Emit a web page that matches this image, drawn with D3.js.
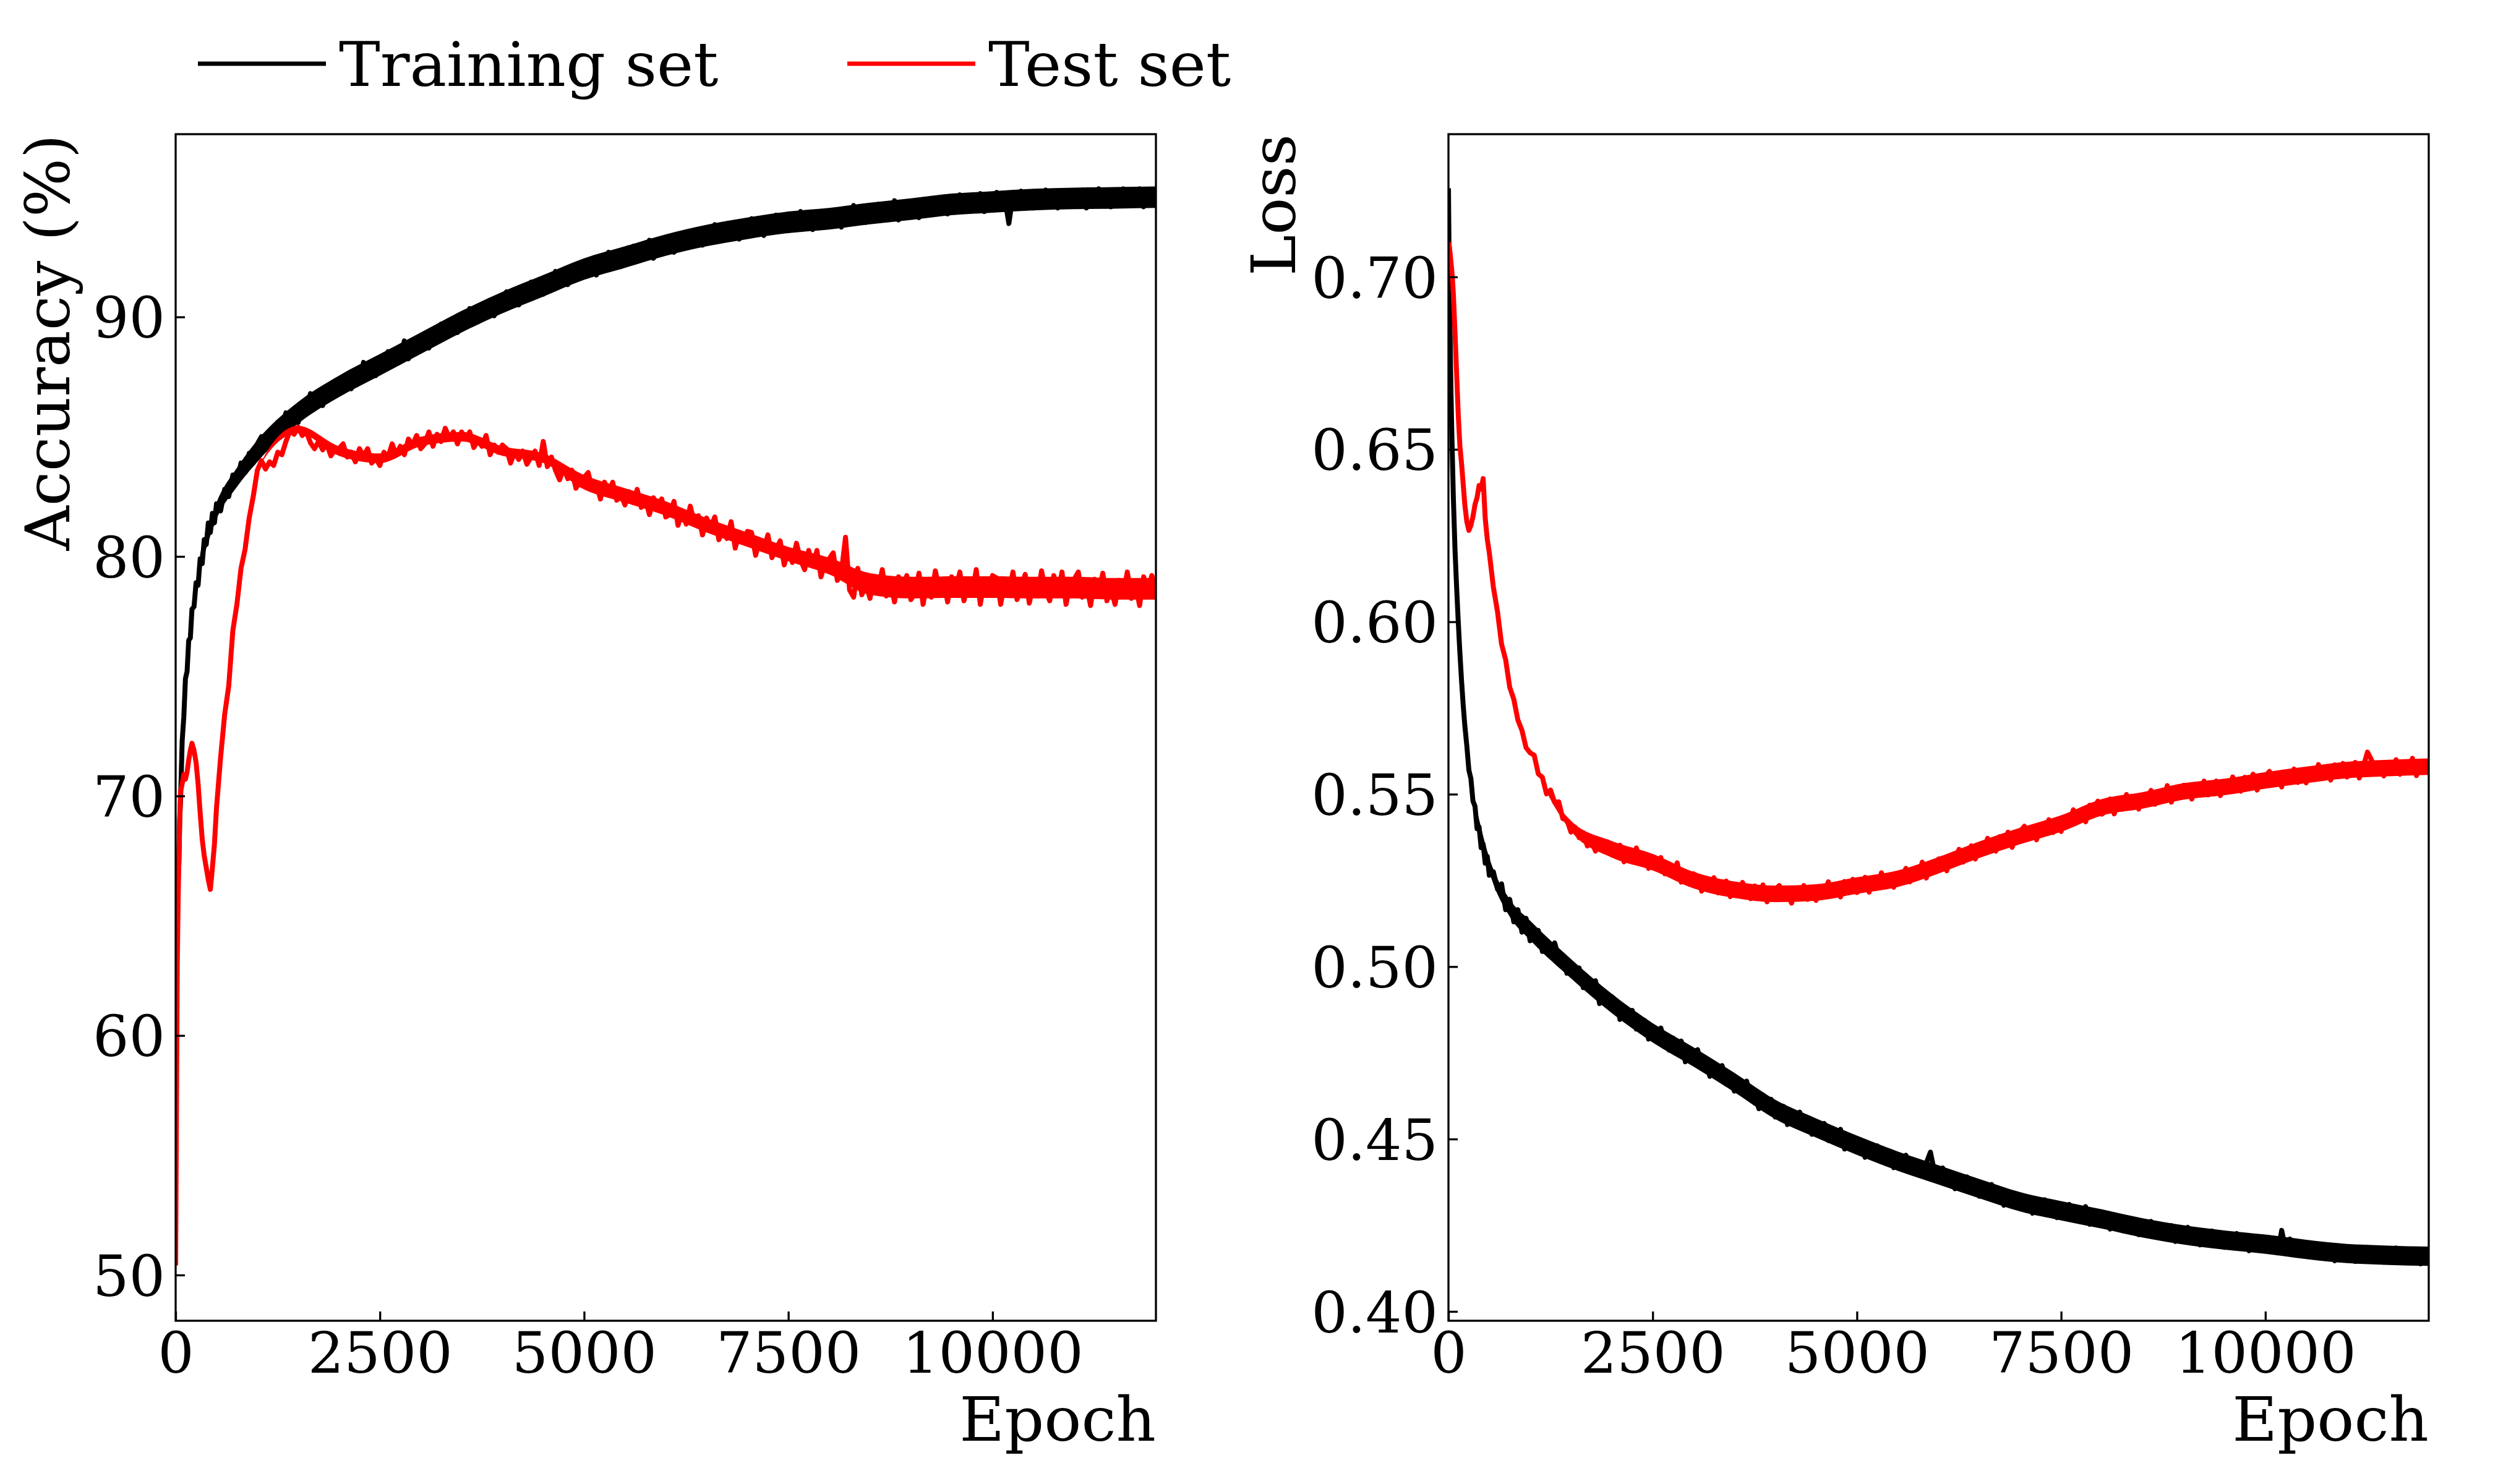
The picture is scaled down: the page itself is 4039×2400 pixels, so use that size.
<!DOCTYPE html>
<html>
<head>
<meta charset="utf-8">
<title>Accuracy and loss per epoch</title>
<script src="https://d3js.org/d3.v7.min.js"></script>
<style>
  body { margin: 0; background: #fff; }
  text { font-family: "DejaVu Serif", serif; fill: #000; }
</style>
</head>
<body>
<div id="chart"></div>
<script>
// epochs, denser at the start where curves move fast
var epochs = [0, 10, 20, 30, 40, 50, 60, 80, 100, 120,
  140, 160, 180, 200, 225, 250, 275, 300, 325, 350,
  375, 400, 425, 450, 475, 500, 550, 600, 650, 700,
  750, 800, 850, 900, 950, 1000,
  1050, 1100, 1150, 1200, 1250, 1300, 1350, 1400, 1450, 1500, 1550, 1600, 1650, 1700, 1750, 1800, 1850, 1900, 1950, 2000,
  2050, 2100, 2150, 2200, 2250, 2300, 2350, 2400, 2450, 2500, 2550, 2600, 2650, 2700, 2750, 2800, 2850, 2900, 2950, 3000,
  3050, 3100, 3150, 3200, 3250, 3300, 3350, 3400, 3450, 3500, 3550, 3600, 3650, 3700, 3750, 3800, 3850, 3900, 3950, 4000,
  4050, 4100, 4150, 4200, 4250, 4300, 4350, 4400, 4450, 4500, 4550, 4600, 4650, 4700, 4750, 4800, 4850, 4900, 4950, 5000,
  5050, 5100, 5150, 5200, 5250, 5300, 5350, 5400, 5450, 5500, 5550, 5600, 5650, 5700, 5750, 5800, 5850, 5900, 5950, 6000,
  6050, 6100, 6150, 6200, 6250, 6300, 6350, 6400, 6450, 6500, 6550, 6600, 6650, 6700, 6750, 6800, 6850, 6900, 6950, 7000,
  7050, 7100, 7150, 7200, 7250, 7300, 7350, 7400, 7450, 7500, 7550, 7600, 7650, 7700, 7750, 7800, 7850, 7900, 7950, 8000,
  8050, 8100, 8150, 8200, 8250, 8300, 8350, 8400, 8450, 8500, 8550, 8600, 8650, 8700, 8750, 8800, 8850, 8900, 8950, 9000,
  9050, 9100, 9150, 9200, 9250, 9300, 9350, 9400, 9450, 9500, 9550, 9600, 9650, 9700, 9750, 9800, 9850, 9900, 9950, 10000,
  10050, 10100, 10150, 10200, 10250, 10300, 10350, 10400, 10450, 10500, 10550, 10600, 10650, 10700, 10750, 10800, 10850, 10900, 10950, 11000,
  11050, 11100, 11150, 11200, 11250, 11300, 11350, 11400, 11450, 11500, 11550, 11600, 11650, 11700, 11750, 11800, 11850, 11900, 11950, 12000];

var trainAcc = [62.5, 64.6, 65.3, 66.6, 67.2, 69.0, 69.8, 72.3, 73.3, 74.9,
  75.2, 76.5, 76.6, 77.8, 77.9, 78.9, 78.8, 79.9, 79.7, 80.7,
  80.5, 81.4, 81.0, 81.8, 81.4, 82.2, 81.9, 82.8, 82.5, 83.4,
  83.1, 83.9, 83.5, 84.3, 83.9, 84.7,
  85.0, 84.6, 85.1, 84.8, 85.6, 85.4, 86.0, 85.5, 85.9, 85.6, 86.35, 86.2, 86.8, 86.25, 86.7, 86.3, 87.1, 86.85, 87.3, 86.8,
  87.05, 87.6, 87.0, 87.6, 87.35, 88.1, 87.65, 88.05, 87.55, 88.25, 88.05, 88.55, 88.0, 88.5, 88.3, 89.0, 88.25, 88.9, 88.7, 89.2,
  89.25, 88.7, 89.3, 89.15, 89.7, 89.15, 89.55, 89.9, 89.35, 89.9, 89.7, 90.35, 89.95, 89.8, 90.5, 90.15, 90.7, 90.05, 90.6, 90.8,
  91.05, 90.55, 90.9, 90.5, 91.2, 90.9, 91.45, 90.85, 91.25, 90.95, 91.6, 91.35, 91.9, 91.35, 91.75, 91.35, 92.1, 91.85, 92.25, 91.7,
  91.9, 92.4, 91.75, 92.3, 92.0, 92.7, 92.25, 92.6, 92.1, 92.75, 92.5, 92.95, 92.35, 92.8, 92.55, 93.2, 92.45, 93.05, 92.85, 93.3,
  93.3, 92.7, 93.25, 93.05, 93.55, 92.95, 93.35, 93.6, 93.0, 93.5, 93.25, 93.85, 93.4, 93.25, 93.85, 93.45, 93.95, 93.25, 93.8, 93.9,
  94.1, 93.55, 93.85, 93.4, 94.05, 93.75, 94.25, 93.6, 93.9, 93.6, 94.15, 93.9, 94.4, 93.8, 94.15, 93.65, 94.35, 94.05, 94.4, 93.8,
  93.95, 94.45, 93.75, 94.3, 94.0, 94.65, 94.2, 94.5, 93.95, 94.55, 94.3, 94.7, 94.05, 94.5, 94.2, 94.85, 94.05, 94.65, 94.4, 94.8,
  94.75, 94.15, 94.75, 94.5, 94.95, 94.35, 94.7, 94.95, 94.3, 94.8, 94.5, 95.1, 94.65, 94.45, 95.05, 94.6, 95.15, 94.4, 94.9, 95.0,
  95.2, 94.65, 94.95, 93.9, 95.1, 94.8, 95.25, 94.6, 94.9, 94.55, 95.1, 94.8, 95.3, 94.7, 95.05, 94.55, 95.2, 94.9, 95.25, 94.65,
  94.8, 95.3, 94.55, 95.1, 94.7, 95.35, 94.9, 95.2, 94.6, 95.2, 94.95, 95.35, 94.65, 95.05, 94.8, 95.35, 94.6, 95.15, 94.9, 95.1];

var testAcc = [50.4, 57.0, 63.0, 65.5, 67.5, 69.0, 70.2, 70.5, 70.9, 70.7,
  71.0, 71.5, 71.9, 72.2, 71.9, 71.4, 70.5, 69.3, 68.2, 67.5,
  67.0, 66.5, 66.1, 67.0, 68.0, 69.5, 71.6, 73.4, 74.6, 76.9,
  78.0, 79.5, 80.3, 81.6, 82.5, 83.6,
  84.0, 83.65, 83.95, 83.8, 84.35, 84.25, 84.8, 85.25, 85.1, 85.4, 85.05, 85.2, 84.75, 84.5, 84.8, 84.45, 84.7, 84.2, 84.45, 84.5,
  84.7, 84.15, 84.35, 83.95, 84.5, 84.2, 84.5, 83.9, 84.1, 83.8, 84.35, 84.15, 84.7, 84.25, 84.6, 84.25, 84.9, 84.65, 85.05, 84.5,
  84.7, 85.2, 84.6, 85.1, 84.8, 85.35, 84.95, 85.2, 84.7, 85.2, 84.9, 85.2, 84.55, 84.85, 84.6, 85.05, 84.25, 84.65, 84.35, 84.65,
  84.5, 83.9, 84.35, 84.05, 84.4, 83.85, 84.15, 84.4, 83.8, 84.8, 83.75, 84.15, 83.6, 83.2, 83.7, 83.25, 83.6, 82.85, 83.15, 83.3,
  83.5, 82.8, 83.05, 82.4, 83.1, 82.7, 83.1, 82.35, 82.6, 82.15, 82.7, 82.25, 82.8, 82.05, 82.4, 81.75, 82.45, 82.05, 82.4, 81.65,
  81.75, 82.3, 81.3, 81.9, 81.35, 82.1, 81.4, 81.7, 80.9, 81.6, 81.2, 81.65, 80.7, 81.15, 80.75, 81.45, 80.35, 81.0, 80.6, 81.05,
  81.0, 80.05, 80.7, 80.3, 80.9, 79.95, 80.3, 80.65, 79.65, 80.25, 79.75, 80.55, 79.85, 79.45, 80.25, 79.6, 80.25, 79.15, 79.75, 79.9,
  80.15, 79.0, 79.35, 80.8, 78.6, 78.3, 79.5, 78.4, 78.85, 78.25, 79.15, 78.6, 79.45, 78.35, 78.95, 78.1, 79.15, 78.65, 79.2, 78.2,
  78.45, 79.3, 78.0, 78.95, 78.3, 79.4, 78.6, 79.05, 78.1, 79.15, 78.65, 79.35, 78.15, 78.85, 78.4, 79.45, 78.0, 79.0, 78.5, 79.2,
  79.1, 78.0, 79.0, 78.5, 79.35, 78.2, 78.75, 79.25, 78.05, 78.9, 78.35, 79.4, 78.55, 78.15, 79.2, 78.4, 79.35, 78.0, 78.85, 79.05,
  79.35, 78.3, 78.8, 77.95, 79.05, 78.5, 79.3, 78.15, 78.65, 78.0, 79.0, 78.45, 79.35, 78.25, 78.85, 77.95, 79.15, 78.6, 79.2, 78.6];

var trainLoss = [0.7257, 0.700, 0.683, 0.668, 0.656, 0.646, 0.636, 0.621, 0.610, 0.600,
  0.591, 0.583, 0.576, 0.570, 0.564, 0.557, 0.5545, 0.548, 0.5465, 0.540,
  0.5405, 0.5345, 0.5355, 0.530, 0.532, 0.5265, 0.5275, 0.5225, 0.5240, 0.5165,
  0.5195, 0.5130, 0.5165, 0.5100, 0.5140, 0.5075,
  0.5083, 0.5105, 0.5044, 0.5069, 0.5034, 0.5069, 0.5025, 0.5033, 0.4981, 0.5011, 0.4978, 0.4996, 0.4939, 0.4957, 0.4927, 0.4959, 0.4893, 0.4922, 0.4894, 0.4913,
  0.4901, 0.4847, 0.4877, 0.4849, 0.4873, 0.4819, 0.4833, 0.4844, 0.4790, 0.4816, 0.4787, 0.4822, 0.4781, 0.4758, 0.4793, 0.4755, 0.4784, 0.4724, 0.4751, 0.4752,
  0.4759, 0.4710, 0.4723, 0.4682, 0.4720, 0.4689, 0.4713, 0.4660, 0.4672, 0.4639, 0.4670, 0.4640, 0.4668, 0.4615, 0.4632, 0.4588, 0.4628, 0.4597, 0.4615, 0.4564,
  0.4570, 0.4595, 0.4542, 0.4570, 0.4540, 0.4578, 0.4542, 0.4555, 0.4514, 0.4548, 0.4524, 0.4545, 0.4496, 0.4517, 0.4494, 0.4528, 0.4471, 0.4502, 0.4479, 0.4500,
  0.4492, 0.4447, 0.4477, 0.4454, 0.4480, 0.4434, 0.4451, 0.4464, 0.4417, 0.4444, 0.4419, 0.4453, 0.4419, 0.4400, 0.4434, 0.4402, 0.4431, 0.4462, 0.4405, 0.4409,
  0.4416, 0.4376, 0.4389, 0.4356, 0.4390, 0.4367, 0.4390, 0.4347, 0.4360, 0.4334, 0.4364, 0.4341, 0.4368, 0.4326, 0.4343, 0.4308, 0.4346, 0.4323, 0.4341, 0.4299,
  0.4305, 0.4331, 0.4285, 0.4313, 0.4289, 0.4324, 0.4293, 0.4308, 0.4272, 0.4306, 0.4288, 0.4310, 0.4267, 0.4289, 0.4270, 0.4304, 0.4253, 0.4284, 0.4264, 0.4285,
  0.4279, 0.4239, 0.4268, 0.4249, 0.4274, 0.4234, 0.4250, 0.4264, 0.4223, 0.4249, 0.4228, 0.4261, 0.4231, 0.4216, 0.4248, 0.4221, 0.4249, 0.4203, 0.4229, 0.4234,
  0.4244, 0.4207, 0.4223, 0.4193, 0.4229, 0.4208, 0.4233, 0.4194, 0.4209, 0.4186, 0.4218, 0.4197, 0.4226, 0.4187, 0.4207, 0.4176, 0.4214, 0.4195, 0.4214, 0.4177,
  0.4185, 0.4211, 0.4170, 0.4235, 0.4177, 0.4210, 0.4182, 0.4195, 0.4162, 0.4193, 0.4176, 0.4196, 0.4156, 0.4176, 0.4160, 0.4192, 0.4147, 0.4178, 0.4161, 0.4183,
  0.4180, 0.4145, 0.4175, 0.4159, 0.4185, 0.4150, 0.4166, 0.4182, 0.4143, 0.4170, 0.4152, 0.4184, 0.4158, 0.4144, 0.4176, 0.4152, 0.4181, 0.4138, 0.4164, 0.4171];

var testLoss = [0.7100, 0.7090, 0.7070, 0.7045, 0.7020, 0.6990, 0.6950, 0.6840, 0.6720, 0.6600,
  0.6510, 0.6460, 0.6400, 0.6340, 0.6290, 0.6265, 0.6280, 0.6305, 0.6340, 0.6360,
  0.6395, 0.6385, 0.6415, 0.6300, 0.6240, 0.6200, 0.6100, 0.6030, 0.5935, 0.5890,
  0.5810, 0.5775, 0.5715, 0.5685, 0.5635, 0.5620,
  0.5613, 0.5559, 0.5549, 0.5501, 0.5512, 0.5476, 0.5478, 0.5429, 0.5425, 0.5390, 0.5404, 0.5374, 0.5388, 0.5350, 0.5364, 0.5335, 0.5366, 0.5348, 0.5361, 0.5324,
  0.5325, 0.5352, 0.5304, 0.5333, 0.5307, 0.5344, 0.5311, 0.5325, 0.5285, 0.5318, 0.5295, 0.5316, 0.5269, 0.5290, 0.5268, 0.5301, 0.5245, 0.5274, 0.5249, 0.5269,
  0.5262, 0.5219, 0.5251, 0.5230, 0.5258, 0.5214, 0.5233, 0.5248, 0.5203, 0.5231, 0.5207, 0.5244, 0.5213, 0.5197, 0.5234, 0.5205, 0.5237, 0.5188, 0.5217, 0.5224,
  0.5235, 0.5196, 0.5214, 0.5184, 0.5225, 0.5206, 0.5235, 0.5195, 0.5214, 0.5192, 0.5230, 0.5211, 0.5246, 0.5208, 0.5233, 0.5202, 0.5247, 0.5228, 0.5253, 0.5215,
  0.5227, 0.5259, 0.5216, 0.5251, 0.5230, 0.5272, 0.5244, 0.5264, 0.5230, 0.5270, 0.5255, 0.5285, 0.5246, 0.5275, 0.5261, 0.5303, 0.5257, 0.5296, 0.5282, 0.5312,
  0.5314, 0.5278, 0.5318, 0.5304, 0.5340, 0.5303, 0.5329, 0.5350, 0.5312, 0.5347, 0.5330, 0.5372, 0.5346, 0.5335, 0.5377, 0.5353, 0.5390, 0.5346, 0.5380, 0.5392,
  0.5407, 0.5373, 0.5394, 0.5368, 0.5411, 0.5395, 0.5426, 0.5389, 0.5410, 0.5392, 0.5433, 0.5417, 0.5455, 0.5420, 0.5448, 0.5420, 0.5468, 0.5452, 0.5480, 0.5442,
  0.5454, 0.5486, 0.5443, 0.5478, 0.5457, 0.5499, 0.5471, 0.5491, 0.5457, 0.5497, 0.5482, 0.5511, 0.5471, 0.5499, 0.5484, 0.5525, 0.5477, 0.5514, 0.5498, 0.5526,
  0.5525, 0.5486, 0.5523, 0.5506, 0.5538, 0.5498, 0.5520, 0.5538, 0.5496, 0.5529, 0.5510, 0.5550, 0.5522, 0.5509, 0.5549, 0.5523, 0.5558, 0.5512, 0.5544, 0.5553,
  0.5566, 0.5530, 0.5549, 0.5521, 0.5562, 0.5544, 0.5573, 0.5534, 0.5554, 0.5533, 0.5571, 0.5552, 0.5586, 0.5548, 0.5572, 0.5541, 0.5585, 0.5565, 0.5589, 0.5550,
  0.5561, 0.5592, 0.5547, 0.5581, 0.5622, 0.5599, 0.5570, 0.5588, 0.5553, 0.5591, 0.5574, 0.5600, 0.5558, 0.5583, 0.5566, 0.5604, 0.5554, 0.5590, 0.5572, 0.5598];

// dense noise band (lower / upper edge) at coarser epochs
var bandEpochs = [300, 500, 750, 1000, 1500, 2000, 2500, 3000, 3500, 4000, 4500, 5000, 5500,
  6000, 6500, 7000, 7500, 8000, 8500, 9000, 9500, 10000, 10500, 11000, 11500, 12000];
var trainAccLow = [79.5, 81.55, 82.9, 83.95, 85.55, 86.65, 87.55, 88.45, 89.35, 90.15, 90.85, 91.55, 92.05,
  92.55, 92.95, 93.25, 93.5, 93.65, 93.87, 94.05, 94.25, 94.35, 94.45, 94.5, 94.52, 94.55];
var trainAccHigh = [80.1, 82.25, 83.7, 84.85, 86.45, 87.55, 88.45, 89.35, 90.25, 91.05, 91.75, 92.45, 92.95,
  93.45, 93.85, 94.15, 94.4, 94.55, 94.77, 94.95, 95.15, 95.25, 95.35, 95.4, 95.42, 95.45];
var testAccLow = [69.3, 69.5, 78.0, 83.6, 85.15, 84.2, 83.9, 84.6, 84.8, 84.2, 83.9, 82.8, 82.25,
  81.7, 81.0, 80.4, 79.8, 79.25, 78.4, 78.25, 78.27, 78.27, 78.25, 78.25, 78.2, 78.2];
var testAccHigh = [69.3, 69.5, 78.0, 83.6, 85.45, 84.6, 84.3, 85.0, 85.2, 84.6, 84.3, 83.4, 82.85,
  82.3, 81.6, 81.0, 80.4, 79.95, 79.3, 79.15, 79.17, 79.17, 79.15, 79.15, 79.1, 79.1];
var trainLossLow = [0.5475, 0.5275, 0.5145, 0.5077, 0.4966, 0.4865, 0.478, 0.471, 0.4636, 0.4558, 0.4504, 0.4454, 0.4408,
  0.4368, 0.4328, 0.429, 0.4264, 0.424, 0.4214, 0.4194, 0.4179, 0.4167, 0.4152, 0.414, 0.4135, 0.4132];
var trainLossHigh = [0.5505, 0.5315, 0.5195, 0.5133, 0.5022, 0.4921, 0.4836, 0.4766, 0.4692, 0.4614, 0.456, 0.451, 0.4464,
  0.4424, 0.4384, 0.4346, 0.432, 0.4296, 0.427, 0.425, 0.4235, 0.4223, 0.4208, 0.4196, 0.4191, 0.4188];
var testLossLow = [0.6305, 0.620, 0.581, 0.562, 0.5393, 0.5316, 0.5279, 0.5227, 0.5199, 0.5187, 0.5191, 0.5211, 0.5231,
  0.527, 0.5315, 0.5355, 0.5391, 0.5438, 0.5458, 0.5484, 0.5497, 0.5516, 0.5532, 0.5546, 0.5552, 0.5556];
var testLossHigh = [0.6305, 0.620, 0.581, 0.562, 0.5423, 0.5364, 0.5327, 0.5275, 0.5247, 0.5235, 0.5239, 0.5259, 0.5279,
  0.5318, 0.5363, 0.5403, 0.5439, 0.5486, 0.5506, 0.5532, 0.5545, 0.5564, 0.558, 0.5594, 0.56, 0.5604];

var seriesNames = ["Training set", "Test set"];
var seriesColors = ["#000000", "#ff0000"];
var epochTicks = [0, 2500, 5000, 7500, 10000];
var accTicks = [50, 60, 70, 80, 90];
var lossTicks = [0.40, 0.45, 0.50, 0.55, 0.60, 0.65, 0.70];
var epochDomain = [0, 12000];
var accDomain = [48.09, 97.63];
var lossDomain = [0.3973, 0.7414];

var W = 4039, H = 2400;
var panelW = 1585, panelH = 1919, panelTop = 217;

var svg = d3.select("#chart").append("svg")
    .attr("width", W)
    .attr("height", H);

svg.append("rect").attr("width", W).attr("height", H).attr("fill", "#fff");

var panels = [
  { id: "acc", left: 284, domain: accDomain, ticks: accTicks, fmt: d3.format("d"),
    series: [trainAcc, testAcc], bands: [[trainAccLow, trainAccHigh], [testAccLow, testAccHigh]],
    label: "Accuracy (%)", labelX: 112 },
  { id: "loss", left: 2342, domain: lossDomain, ticks: lossTicks, fmt: d3.format(".2f"),
    series: [trainLoss, testLoss], bands: [[trainLossLow, trainLossHigh], [testLossLow, testLossHigh]],
    label: "Loss", labelX: 2094 }
];

panels.forEach(function (p) {
  var g = svg.append("g").attr("transform", "translate(" + p.left + "," + panelTop + ")");
  var x = d3.scaleLinear().domain(epochDomain).range([0, panelW]);
  var y = d3.scaleLinear().domain(p.domain).range([panelH, 0]);

  g.append("clipPath").attr("id", "clip-" + p.id)
    .append("rect").attr("width", panelW).attr("height", panelH);

  var line = d3.line()
      .x(function (d) { return x(d[0]); })
      .y(function (d) { return y(d[1]); });

  var area = d3.area()
      .curve(d3.curveMonotoneX)
      .x(function (d) { return x(d[0]); })
      .y0(function (d) { return y(d[1]); })
      .y1(function (d) { return y(d[2]); });

  // training first, test on top
  p.series.forEach(function (vals, k) {
    var band = bandEpochs.map(function (e, i) { return [e, p.bands[k][0][i], p.bands[k][1][i]]; });
    g.append("path")
      .datum(band)
      .attr("clip-path", "url(#clip-" + p.id + ")")
      .attr("fill", seriesColors[k])
      .attr("stroke", "none")
      .attr("d", area);

    var pts = epochs.map(function (e, i) { return [e, vals[i]]; });
    g.append("path")
      .datum(pts)
      .attr("clip-path", "url(#clip-" + p.id + ")")
      .attr("fill", "none")
      .attr("stroke", seriesColors[k])
      .attr("stroke-width", 8)
      .attr("stroke-linejoin", "round")
      .attr("d", line);
  });

  // bottom axis, ticks pointing inward
  var xa = g.append("g")
      .attr("transform", "translate(0," + panelH + ")")
      .call(d3.axisBottom(x).tickValues(epochTicks).tickSizeInner(-15).tickSizeOuter(0)
        .tickFormat(d3.format("d")));
  xa.select(".domain").remove();
  xa.attr("font-family", null).attr("font-size", 92);
  xa.selectAll(".tick line").attr("stroke", "#000").attr("stroke-width", 3.3);
  xa.selectAll(".tick text").attr("y", 84).attr("dy", null);

  var ya = g.append("g")
      .call(d3.axisLeft(y).tickValues(p.ticks).tickSizeInner(-15).tickSizeOuter(0)
        .tickFormat(p.fmt));
  ya.select(".domain").remove();
  ya.attr("font-family", null).attr("font-size", 92);
  ya.selectAll(".tick line").attr("stroke", "#000").attr("stroke-width", 3.3);
  ya.selectAll(".tick text").attr("x", -17).attr("dy", "0.36em");

  g.append("rect")
    .attr("width", panelW)
    .attr("height", panelH)
    .attr("fill", "none")
    .attr("stroke", "#000")
    .attr("stroke-width", 3.3);

  // axis titles: y at the top, x at the right
  svg.append("text")
    .attr("transform", "translate(" + p.labelX + "," + panelTop + ") rotate(-90)")
    .attr("text-anchor", "end")
    .attr("font-size", 100)
    .text(p.label);

  svg.append("text")
    .attr("x", p.left + panelW)
    .attr("y", 2330)
    .attr("text-anchor", "end")
    .attr("font-size", 100)
    .text("Epoch");
});

// legend above the left panel
var legendX = [320, 1370];
var legend = svg.selectAll(".legend")
    .data(seriesNames)
    .enter()
    .append("g")
    .attr("class", "legend")
    .attr("transform", function (d, i) { return "translate(" + legendX[i] + ",0)"; });

legend.append("line")
    .attr("x1", 0).attr("x2", 207)
    .attr("y1", 103).attr("y2", 103)
    .attr("stroke", function (d, i) { return seriesColors[i]; })
    .attr("stroke-width", 7);

legend.append("text")
    .attr("x", 228)
    .attr("y", 139)
    .attr("font-size", 100)
    .text(function (d) { return d; });
</script>
</body>
</html>
